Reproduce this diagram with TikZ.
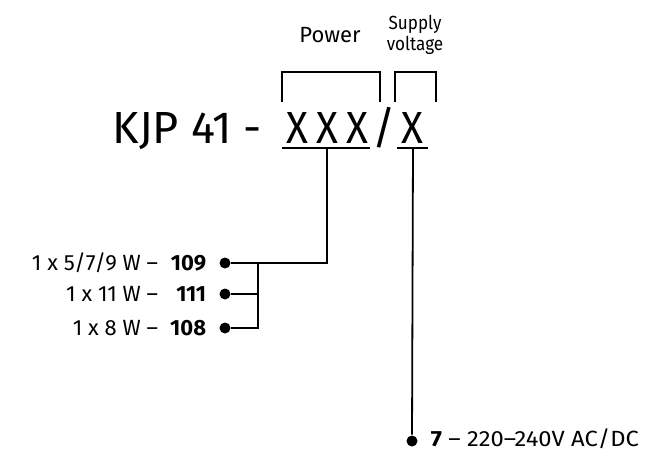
\documentclass[tikz,border=0pt]{standalone}
\usepackage{fontspec}
\setmainfont{Fira Sans}
\begin{document}
\begin{tikzpicture}[x=1pt,y=-1pt, line width=1.8pt,
  lbl/.style={inner sep=0pt, font=\fontsize{22}{26}\selectfont},
  sm/.style={inner sep=0pt, font=\fontsize{19}{21}\selectfont},
  big/.style={inner sep=0pt, font=\fontsize{45}{50}\selectfont},
  dot/.style={circle, fill=black, inner sep=0pt, minimum size=11pt}]
\useasboundingbox (0,0) rectangle (649,452);
% labels above
\node[lbl, anchor=base] (power) at (330,43) {Power};
\node[sm, anchor=base, xscale=0.9] (supply) at (415,30) {Supply};
\node[sm, anchor=base, xscale=0.9] (voltage) at (415,51) {voltage};
% brackets
\coordinate (pa) at (282,102); \coordinate (pb) at (380,72); \coordinate (pc) at (380,102);
\coordinate (sa) at (395,102); \coordinate (sb) at (436,72); \coordinate (sc) at (436,102);
\draw[line width=1.5pt] (pa) |- (pb) -- (pc);
\draw[line width=1.5pt] (sa) |- (sb) -- (sc);
% title
\node[big, anchor=base west] (kjp) at (112,143) {KJP 41 -};
\node[big, anchor=base, xscale=0.9] (x1) at (297,143) {X};
\node[big, anchor=base, xscale=0.9] (x2) at (327,143) {X};
\node[big, anchor=base, xscale=0.9] (x3) at (357,143) {X};
\node[big, anchor=base] (sl) at (384,143) {/};
\node[big, anchor=base, xscale=0.9] (x4) at (412,143) {X};
% underlines
\coordinate (u1a) at (282,148); \coordinate (u1b) at (370,148);
\coordinate (u2a) at (397,148); \coordinate (u2b) at (428,148);
\draw[line width=1.5pt] (u1a) -- (u1b);
\draw[line width=1.5pt] (u2a) -- (u2b);
% power options
\node[lbl, anchor=base east] (r1) at (159,270) {1 x 5/7/9 W –};
\node[lbl, anchor=base east] (n1) at (207,270) {\textbf{109}};
\node[lbl, anchor=base east] (r2) at (159,301) {1 x 11 W –};
\node[lbl, anchor=base east] (n2) at (207,301) {\textbf{111}};
\node[lbl, anchor=base east] (r3) at (159,335) {1 x 8 W –};
\node[lbl, anchor=base east] (n3) at (207,335) {\textbf{108}};
\node[dot] (d1) at (225,263) {};
\node[dot] (d2) at (225,294) {};
\node[dot] (d3) at (225,328) {};
\coordinate (j1) at (327,148); \coordinate (c1) at (327,263);
\coordinate (b1) at (258,263); \coordinate (b2) at (258,294);
\draw (j1) -- (c1) -- (d1);
\draw (b1) |- (d3);
\draw (b2) -- (d2);
% supply option
\coordinate (j2) at (413,148);
\node[dot] (d4) at (412,441) {};
\draw (j2) -- (d4);
\node[lbl, anchor=base west, xscale=1.08] (v) at (430,446) {\textbf{7} – 220–240V AC/DC};
\end{tikzpicture}
\end{document}
